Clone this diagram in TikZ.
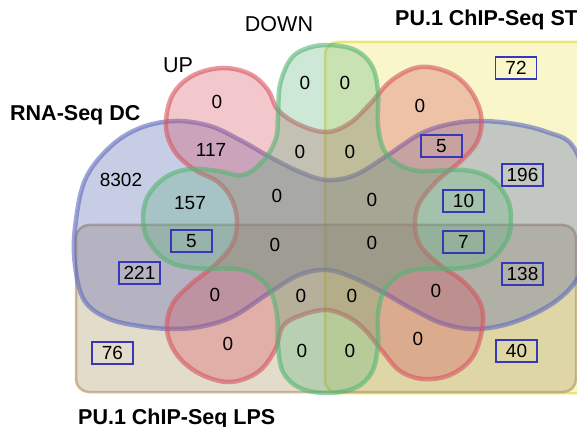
\documentclass[tikz,border=0pt]{standalone}
\usepackage{fontspec}
\setmainfont{Liberation Sans}
\definecolor{yfill}{RGB}{235,230,80}
\definecolor{ydraw}{RGB}{225,220,80}
\definecolor{bfill}{RGB}{165,138,82}
\definecolor{bdraw}{RGB}{185,155,115}
\definecolor{blfill}{RGB}{72,88,172}
\definecolor{bldraw}{RGB}{95,105,190}
\definecolor{rfill}{RGB}{212,72,88}
\definecolor{rdraw}{RGB}{215,85,95}
\definecolor{gfill}{RGB}{88,179,122}
\definecolor{gdraw}{RGB}{85,180,115}
\definecolor{boxblue}{RGB}{55,55,185}
\tikzset{
  setshape/.style={fill opacity=0.3, draw opacity=0.6, line width=4.5pt, line join=round},
  rectshape/.style={fill opacity=0.3, draw opacity=0.7, line width=2.5pt, rounded corners=13pt},
  num/.style={font=\fontsize{19}{21}\selectfont, inner sep=0pt},
  numbox/.style={num, draw=boxblue, line width=1.3pt, minimum width=41pt, minimum height=22pt},
  lbl/.style={font=\fontsize{21.5}{25}\selectfont, inner sep=0pt},
  blbl/.style={font=\fontsize{21.5}{25}\selectfont\bfseries, inner sep=0pt, anchor=base west},
}
\begin{document}
\begin{tikzpicture}[x=1pt,y=-1pt]
\useasboundingbox (0,0) rectangle (577,427);
% PU.1 ChIP-Seq ST
\draw[rectshape, fill=yfill, draw=ydraw] (325,42) rectangle (615,393);
% PU.1 ChIP-Seq LPS
\draw[rectshape, fill=bfill, draw=bdraw] (76,225) rectangle (576,392);
% RNA-Seq DC
\draw[setshape, fill=blfill, draw=bldraw] plot[smooth cycle, tension=0.6] coordinates {
 (75,228) (85,180) (110,147) (140,128) (175,121) (210,126) (240,140) (270,157) (300,172) (327,180)
 (355,175) (385,157) (420,134) (450,124) (480,121) (515,124) (547,132) (572,145) (588,185) (593,222)
 (583,268) (560,298) (520,320) (479,329) (444,324) (414,310) (384,293) (354,278) (327,270)
 (299,275) (269,293) (234,316) (204,326) (174,329) (139,326) (107,318) (84,300) (75,265)};
% UP
\draw[setshape, fill=rfill, draw=rdraw] plot[smooth cycle, tension=0.6] coordinates {
 (166,127) (172,96) (192,76) (222,68) (250,74) (268,90) (278,110) (300,125) (327,132) (350,123)
 (370,104) (392,80) (420,67) (450,73) (470,90) (481,115) (478,140) (462,160) (438,180) (420,202)
 (415,223) (420,245) (440,265) (465,283) (481,305) (482,330) (472,358) (450,375) (423,379) (400,371)
 (383,352) (366,331) (350,318) (327,310) (302,315) (283,326) (275,350) (258,372) (230,382) (200,374)
 (177,355) (167,330) (172,305) (190,285) (215,265) (232,245) (237,223) (232,200) (218,182) (195,170) (175,152)};
% DOWN
\draw[setshape, fill=gfill, draw=gdraw] plot[smooth cycle, tension=0.6] coordinates {
 (328,45) (355,50) (372,66) (378,92) (378,125) (384,150) (398,164) (420,171) (463,170)
 (490,178) (507,198) (511,219) (507,240) (490,260) (463,268) (420,269) (398,276) (384,291)
 (378,315) (378,345) (372,372) (355,388) (327,393) (300,388) (283,372) (278,345) (277,315)
 (270,290) (256,276) (237,269) (193,268) (166,260) (148,240) (143,219) (148,196) (166,177)
 (190,169) (218,171) (243,175) (264,160) (276,138) (278,115) (280,85) (290,60) (305,49)};
% labels
\node[lbl] (lUP) at (178,65) {UP};
\node[lbl] (lDOWN) at (279,24) {DOWN};
\node[blbl] (lRNA) at (10,121) {RNA-Seq DC};
\node[blbl] (lST) at (395,26) {PU.1 ChIP-Seq ST};
\node[blbl] (lLPS) at (78,424) {PU.1 ChIP-Seq LPS};
% plain numbers
\node[num] (a1) at (217,102) {0};
\node[num] (a2) at (211,150) {117};
\node[num] (a3) at (121,180) {8302};
\node[num] (a4) at (190,203) {157};
\node[num] (a5) at (277,196) {0};
\node[num] (a6) at (305,83) {0};
\node[num] (a7) at (345,83) {0};
\node[num] (a8) at (300,152) {0};
\node[num] (a9) at (350,152) {0};
\node[num] (a10) at (420,106) {0};
\node[num] (a11) at (372,200) {0};
\node[num] (a12) at (275,245) {0};
\node[num] (a13) at (372,243) {0};
\node[num] (a14) at (215,295) {0};
\node[num] (a15) at (228,344) {0};
\node[num] (a16) at (301,296) {0};
\node[num] (a17) at (352,296) {0};
\node[num] (a18) at (302,351) {0};
\node[num] (a19) at (350,351) {0};
\node[num] (a20) at (436,291) {0};
\node[num] (a21) at (418,339) {0};
% boxed numbers
\node[numbox] (b1) at (516,68) {72};
\node[numbox] (b2) at (441.5,146) {5};
\node[numbox] (b3) at (522.5,175) {196};
\node[numbox] (b4) at (463.5,201) {10};
\node[numbox] (b5) at (463.5,242) {7};
\node[numbox] (b6) at (522.5,274) {138};
\node[numbox] (b7) at (516.5,351) {40};
\node[numbox] (b8) at (191.5,241) {5};
\node[numbox] (b9) at (139.5,273) {221};
\node[numbox] (b10) at (112.5,353) {76};
\end{tikzpicture}
\end{document}
